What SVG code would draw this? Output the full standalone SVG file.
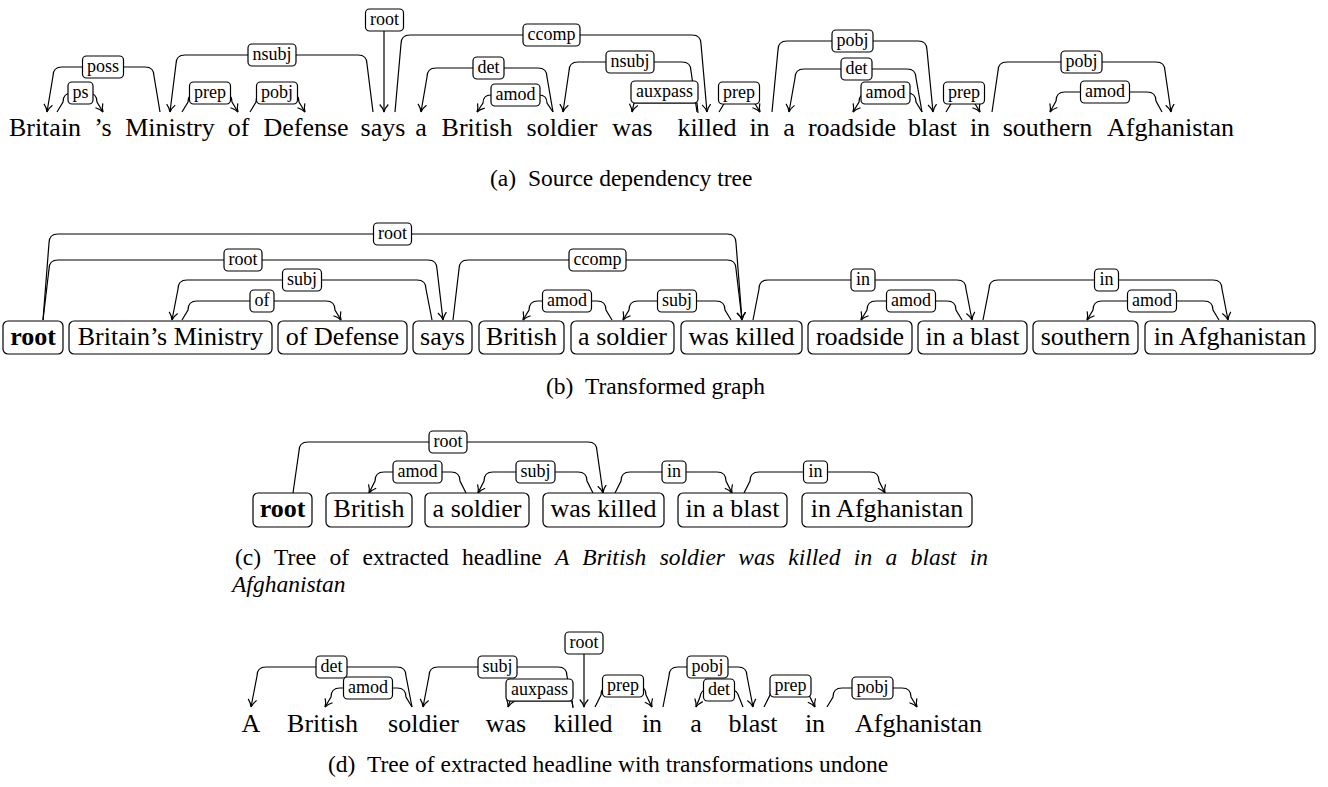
<svg xmlns="http://www.w3.org/2000/svg" width="1328" height="787" viewBox="0 0 1328 787">
<style>
text{font-family:"Liberation Serif","Times New Roman",serif;fill:#000}
.w{font-size:26px;text-anchor:middle}
.wb{font-size:26px;text-anchor:middle;font-weight:bold}
.lb{font-size:18px;text-anchor:middle}
.cap{font-size:23.5px}
.it{font-style:italic}
.nb{fill:#fff;stroke:#000;stroke-width:1.2}
.lr{fill:#fff;stroke:#000;stroke-width:1.2}
.e{fill:none;stroke:#000;stroke-width:1.2;marker-end:url(#ah)}
</style>
<defs>
<marker id="ah" viewBox="-8 -5 10 10" markerWidth="10" markerHeight="10" refX="0" refY="0" orient="auto" markerUnits="userSpaceOnUse">
<path d="M -7.5,-4.3 C -4.5,-1.5 -2,-0.5 0,0 C -2,0.5 -4.5,1.5 -7.5,4.3" fill="none" stroke="#000" stroke-width="1.2"/>
</marker>
</defs>

<!-- ===== (a) Source dependency tree ===== -->
<g id="a-words">
<g id="a-Britain"><text class="w" x="45" y="136">Britain</text></g>
<g id="a-s"><text class="w" x="103" y="136">’s</text></g>
<g id="a-Ministry"><text class="w" x="170" y="136">Ministry</text></g>
<g id="a-of"><text class="w" x="238.5" y="136">of</text></g>
<g id="a-Defense"><text class="w" x="306" y="136">Defense</text></g>
<g id="a-says"><text class="w" x="383" y="136">says</text></g>
<g id="a-a1"><text class="w" x="421" y="136">a</text></g>
<g id="a-British"><text class="w" x="477" y="136">British</text></g>
<g id="a-soldier"><text class="w" x="562" y="136">soldier</text></g>
<g id="a-was"><text class="w" x="632.5" y="136">was</text></g>
<g id="a-killed"><text class="w" x="707" y="136">killed</text></g>
<g id="a-in1"><text class="w" x="759.5" y="136">in</text></g>
<g id="a-a2"><text class="w" x="789" y="136">a</text></g>
<g id="a-roadside"><text class="w" x="852" y="136">roadside</text></g>
<g id="a-blast"><text class="w" x="932.5" y="136">blast</text></g>
<g id="a-in2"><text class="w" x="980" y="136">in</text></g>
<g id="a-southern"><text class="w" x="1047.5" y="136">southern</text></g>
<g id="a-Afghanistan"><text class="w" x="1170.5" y="136">Afghanistan</text></g>
</g>
<g id="a-connectors">
<g><path class="e" d="M 57,112 L 63,102 Q 63,93 72,93 L 88,93 Q 97,93 97,102 L 103,112"/><rect class="lr" x="68" y="82" width="25" height="22" rx="4"/><text class="lb" x="80.5" y="98">ps</text></g>
<g><path class="e" d="M 160,112 L 154,76 Q 154,67 145,67 L 62,67 Q 53,67 53,76 L 47,112"/><rect class="lr" x="82.5" y="56" width="41" height="22" rx="4"/><text class="lb" x="103" y="72">poss</text></g>
<g><path class="e" d="M 182,112 L 188,102 Q 188,93 197,93 L 223,93 Q 232,93 232,102 L 238,112"/><rect class="lr" x="189.5" y="82" width="41" height="22" rx="4"/><text class="lb" x="210" y="98">prep</text></g>
<g><path class="e" d="M 250,112 L 256,102 Q 256,93 265,93 L 290,93 Q 299,93 299,102 L 305,112"/><rect class="lr" x="256.5" y="82" width="41" height="22" rx="4"/><text class="lb" x="277" y="98">pobj</text></g>
<g><path class="e" d="M 373,112 L 367,64 Q 367,55 358,55 L 185,55 Q 176,55 176,64 L 170,112"/><rect class="lr" x="248" y="44" width="48" height="22" rx="4"/><text class="lb" x="272" y="60">nsubj</text></g>
<g><path class="e" d="M 384,31 L 384,112"/><rect class="lr" x="365.5" y="9" width="38" height="22" rx="4"/><text class="lb" x="384.5" y="25">root</text></g>
<g><path class="e" d="M 395,112 L 401,44 Q 401,35 410,35 L 692,35 Q 701,35 701,44 L 707,112"/><rect class="lr" x="523" y="24" width="57" height="22" rx="4"/><text class="lb" x="551.5" y="40">ccomp</text></g>
<g><path class="e" d="M 553,112 L 547,77 Q 547,68 538,68 L 436,68 Q 427,68 427,77 L 421,112"/><rect class="lr" x="473" y="57" width="31" height="22" rx="4"/><text class="lb" x="488.5" y="73">det</text></g>
<g><path class="e" d="M 553,112 L 547,103 Q 547,95 539,95 L 491,95 Q 483,95 483,103 L 477,112"/><rect class="lr" x="491" y="84" width="49" height="22" rx="4"/><text class="lb" x="515.5" y="100">amod</text></g>
<g><path class="e" d="M 697,112 L 691,71 Q 691,62 682,62 L 578,62 Q 569,62 569,71 L 563,112"/><rect class="lr" x="606" y="51" width="48" height="22" rx="4"/><text class="lb" x="630" y="67">nsubj</text></g>
<g><path class="e" d="M 698,113 L 697,103 L 634,103 L 632,112"/><rect class="lr" x="631" y="81" width="67" height="22" rx="4"/><text class="lb" x="664.5" y="97">auxpass</text></g>
<g><path class="e" d="M 719,112 L 725,102 Q 725,93 734,93 L 745,93 Q 754,93 754,102 L 760,112"/><rect class="lr" x="718.5" y="82" width="41" height="22" rx="4"/><text class="lb" x="739" y="98">prep</text></g>
<g><path class="e" d="M 772,112 L 778,50 Q 778,41 787,41 L 918,41 Q 927,41 927,50 L 933,112"/><rect class="lr" x="832" y="30" width="41" height="22" rx="4"/><text class="lb" x="852.5" y="46">pobj</text></g>
<g><path class="e" d="M 922,112 L 916,78 Q 916,69 907,69 L 804,69 Q 795,69 795,78 L 789,112"/><rect class="lr" x="841" y="58" width="31" height="22" rx="4"/><text class="lb" x="856.5" y="74">det</text></g>
<g><path class="e" d="M 922,112 L 916,102 Q 916,93 907,93 L 868,93 Q 859,93 859,102 L 853,112"/><rect class="lr" x="861" y="82" width="49" height="22" rx="4"/><text class="lb" x="885.5" y="98">amod</text></g>
<g><path class="e" d="M 946,112 L 952,102 Q 952,93 961,93 L 965,93 Q 974,93 974,102 L 980,112"/><rect class="lr" x="943.5" y="82" width="41" height="22" rx="4"/><text class="lb" x="964" y="98">prep</text></g>
<g><path class="e" d="M 992,112 L 998,71 Q 998,62 1007,62 L 1156,62 Q 1165,62 1165,71 L 1171,112"/><rect class="lr" x="1061" y="51" width="41" height="22" rx="4"/><text class="lb" x="1081.5" y="67">pobj</text></g>
<g><path class="e" d="M 1162,112 L 1156,101 Q 1156,92 1147,92 L 1065,92 Q 1056,92 1056,101 L 1050,112"/><rect class="lr" x="1080.5" y="81" width="49" height="22" rx="4"/><text class="lb" x="1105" y="97">amod</text></g>
</g>
<g id="cap-a"><text class="cap" x="490" y="186">(a)</text><text class="cap" x="528" y="186">Source dependency tree</text></g>

<!-- ===== (b) Transformed graph ===== -->
<g id="b-connectors">
<g><path class="e" d="M 43,320 L 49,243 Q 49,234 58,234 L 727,234 Q 736,234 736,243 L 742,320"/><rect class="lr" x="373.5" y="223" width="38" height="22" rx="4"/><text class="lb" x="392.5" y="239">root</text></g>
<g><path class="e" d="M 43,320 L 49,269 Q 49,260 58,260 L 428,260 Q 437,260 437,269 L 443,320"/><rect class="lr" x="224" y="249" width="38" height="22" rx="4"/><text class="lb" x="243" y="265">root</text></g>
<g><path class="e" d="M 432,320 L 426,289 Q 426,280 417,280 L 187,280 Q 178,280 178,289 L 172,320"/><rect class="lr" x="282.5" y="269" width="39" height="22" rx="4"/><text class="lb" x="302" y="285">subj</text></g>
<g><path class="e" d="M 182,320 L 188,310 Q 188,301 197,301 L 326,301 Q 335,301 335,310 L 341,320"/><rect class="lr" x="250" y="290" width="24" height="22" rx="4"/><text class="lb" x="262" y="306">of</text></g>
<g><path class="e" d="M 453,320 L 459,269 Q 459,260 468,260 L 727,260 Q 736,260 736,269 L 742,320"/><rect class="lr" x="569" y="249" width="57" height="22" rx="4"/><text class="lb" x="597.5" y="265">ccomp</text></g>
<g><path class="e" d="M 612,320 L 606,310 Q 606,301 597,301 L 538,301 Q 529,301 529,310 L 523,320"/><rect class="lr" x="542.5" y="290" width="49" height="22" rx="4"/><text class="lb" x="567" y="306">amod</text></g>
<g><path class="e" d="M 731,320 L 725,310 Q 725,301 716,301 L 638,301 Q 629,301 629,310 L 623,320"/><rect class="lr" x="657.5" y="290" width="39" height="22" rx="4"/><text class="lb" x="677" y="306">subj</text></g>
<g><path class="e" d="M 753,320 L 759,289 Q 759,280 768,280 L 957,280 Q 966,280 966,289 L 972,320"/><rect class="lr" x="851" y="269" width="24" height="22" rx="4"/><text class="lb" x="863" y="285">in</text></g>
<g><path class="e" d="M 962,320 L 956,310 Q 956,301 947,301 L 876,301 Q 867,301 867,310 L 861,320"/><rect class="lr" x="886.5" y="290" width="49" height="22" rx="4"/><text class="lb" x="911" y="306">amod</text></g>
<g><path class="e" d="M 983,320 L 989,289 Q 989,280 998,280 L 1213,280 Q 1222,280 1222,289 L 1228,320"/><rect class="lr" x="1094.5" y="269" width="24" height="22" rx="4"/><text class="lb" x="1106.5" y="285">in</text></g>
<g><path class="e" d="M 1219,320 L 1213,310 Q 1213,301 1204,301 L 1102,301 Q 1093,301 1093,310 L 1087,320"/><rect class="lr" x="1127.5" y="290" width="49" height="22" rx="4"/><text class="lb" x="1152" y="306">amod</text></g>
</g>
<g id="b-nodes">
<g id="b-root"><rect class="nb" x="3" y="321" width="60" height="33" rx="5"/><text class="wb" x="33" y="345">root</text></g>
<g id="b-BritainsMinistry"><rect class="nb" x="69" y="321" width="203" height="33" rx="5"/><text class="w" x="170.5" y="345">Britain’s Ministry</text></g>
<g id="b-ofDefense"><rect class="nb" x="278" y="321" width="129" height="33" rx="5"/><text class="w" x="342.5" y="345">of Defense</text></g>
<g id="b-says"><rect class="nb" x="413" y="321" width="59" height="33" rx="5"/><text class="w" x="442.5" y="345">says</text></g>
<g id="b-British"><rect class="nb" x="479" y="321" width="85" height="33" rx="5"/><text class="w" x="521.5" y="345">British</text></g>
<g id="b-asoldier"><rect class="nb" x="571" y="321" width="103" height="33" rx="5"/><text class="w" x="622.5" y="345">a soldier</text></g>
<g id="b-waskilled"><rect class="nb" x="681" y="321" width="121" height="33" rx="5"/><text class="w" x="741.5" y="345">was killed</text></g>
<g id="b-roadside"><rect class="nb" x="808" y="321" width="104" height="33" rx="5"/><text class="w" x="860" y="345">roadside</text></g>
<g id="b-inablast"><rect class="nb" x="918" y="321" width="109" height="33" rx="5"/><text class="w" x="972.5" y="345">in a blast</text></g>
<g id="b-southern"><rect class="nb" x="1033" y="321" width="105" height="33" rx="5"/><text class="w" x="1085.5" y="345">southern</text></g>
<g id="b-inAfghanistan"><rect class="nb" x="1145" y="321" width="170" height="33" rx="5"/><text class="w" x="1230" y="345">in Afghanistan</text></g>
</g>
<g id="cap-b"><text class="cap" x="546" y="394">(b)</text><text class="cap" x="585" y="394">Transformed graph</text></g>

<!-- ===== (c) Extracted headline tree ===== -->
<g id="c-connectors">
<g><path class="e" d="M 293,493 L 299,451 Q 299,442 308,442 L 588,442 Q 597,442 597,451 L 603,493"/><rect class="lr" x="429" y="431" width="38" height="22" rx="4"/><text class="lb" x="448" y="447">root</text></g>
<g><path class="e" d="M 466,493 L 460,481 Q 460,472 451,472 L 384,472 Q 375,472 375,481 L 369,493"/><rect class="lr" x="393" y="461" width="49" height="22" rx="4"/><text class="lb" x="417.5" y="477">amod</text></g>
<g><path class="e" d="M 593,493 L 587,481 Q 587,472 578,472 L 493,472 Q 484,472 484,481 L 478,493"/><rect class="lr" x="516" y="461" width="39" height="22" rx="4"/><text class="lb" x="535.5" y="477">subj</text></g>
<g><path class="e" d="M 615,493 L 621,481 Q 621,472 630,472 L 717,472 Q 726,472 726,481 L 732,493"/><rect class="lr" x="662" y="461" width="24" height="22" rx="4"/><text class="lb" x="674" y="477">in</text></g>
<g><path class="e" d="M 744,493 L 750,481 Q 750,472 759,472 L 870,472 Q 879,472 879,481 L 885,493"/><rect class="lr" x="803.5" y="461" width="24" height="22" rx="4"/><text class="lb" x="815.5" y="477">in</text></g>
</g>
<g id="c-nodes">
<g id="c-root"><rect class="nb" x="253" y="493" width="59" height="34" rx="5"/><text class="wb" x="282.5" y="517">root</text></g>
<g id="c-British"><rect class="nb" x="326" y="493" width="86" height="34" rx="5"/><text class="w" x="369" y="517">British</text></g>
<g id="c-asoldier"><rect class="nb" x="425" y="493" width="104" height="34" rx="5"/><text class="w" x="477" y="517">a soldier</text></g>
<g id="c-waskilled"><rect class="nb" x="543" y="493" width="121" height="34" rx="5"/><text class="w" x="603.5" y="517">was killed</text></g>
<g id="c-inablast"><rect class="nb" x="678" y="493" width="109" height="34" rx="5"/><text class="w" x="732.5" y="517">in a blast</text></g>
<g id="c-inAfghanistan"><rect class="nb" x="802" y="493" width="170" height="34" rx="5"/><text class="w" x="887" y="517">in Afghanistan</text></g>
</g>
<g id="cap-c">
<text class="cap" x="235" y="565" word-spacing="7.5">(c) Tree of extracted headline <tspan class="it">A British soldier was killed in a blast in</tspan></text>
<text class="cap it" x="232" y="592">Afghanistan</text>
</g>

<!-- ===== (d) Headline with transformations undone ===== -->
<g id="d-words">
<g id="d-A"><text class="w" x="251" y="732">A</text></g>
<g id="d-British"><text class="w" x="322.5" y="732">British</text></g>
<g id="d-soldier"><text class="w" x="423.5" y="732">soldier</text></g>
<g id="d-was"><text class="w" x="506" y="732">was</text></g>
<g id="d-killed"><text class="w" x="583" y="732">killed</text></g>
<g id="d-in1"><text class="w" x="652" y="732">in</text></g>
<g id="d-a"><text class="w" x="696" y="732">a</text></g>
<g id="d-blast"><text class="w" x="753" y="732">blast</text></g>
<g id="d-in2"><text class="w" x="815" y="732">in</text></g>
<g id="d-Afghanistan"><text class="w" x="918.5" y="732">Afghanistan</text></g>
</g>
<g id="d-connectors">
<g><path class="e" d="M 412,707 L 406,676 Q 406,667 397,667 L 266,667 Q 257,667 257,676 L 251,707"/><rect class="lr" x="316" y="656" width="31" height="22" rx="4"/><text class="lb" x="331.5" y="672">det</text></g>
<g><path class="e" d="M 412,707 L 406,697 Q 406,688 397,688 L 340,688 Q 331,688 331,697 L 325,707"/><rect class="lr" x="343.5" y="677" width="49" height="22" rx="4"/><text class="lb" x="368" y="693">amod</text></g>
<g><path class="e" d="M 573,707 L 567,676 Q 567,667 558,667 L 438,667 Q 429,667 429,676 L 423,707"/><rect class="lr" x="478" y="656" width="39" height="22" rx="4"/><text class="lb" x="497.5" y="672">subj</text></g>
<g><path class="e" d="M 573,708 L 572,701 L 510,701 L 508,707"/><rect class="lr" x="506" y="679" width="67" height="22" rx="4"/><text class="lb" x="539.5" y="695">auxpass</text></g>
<g><path class="e" d="M 584,654 L 584,707"/><rect class="lr" x="565" y="632" width="38" height="22" rx="4"/><text class="lb" x="584" y="648">root</text></g>
<g><path class="e" d="M 595,707 L 601,695 Q 601,686 610,686 L 637,686 Q 646,686 646,695 L 652,707"/><rect class="lr" x="602.5" y="675" width="41" height="22" rx="4"/><text class="lb" x="623" y="691">prep</text></g>
<g><path class="e" d="M 663,707 L 669,676 Q 669,667 678,667 L 738,667 Q 747,667 747,676 L 753,707"/><rect class="lr" x="687" y="656" width="41" height="22" rx="4"/><text class="lb" x="707.5" y="672">pobj</text></g>
<g><path class="e" d="M 743,707 L 739,697 Q 737,690 732,690 L 706,690 Q 701,690 700,697 L 696,707"/><rect class="lr" x="703.5" y="679" width="31" height="22" rx="4"/><text class="lb" x="719" y="695">det</text></g>
<g><path class="e" d="M 764,707 L 770,695 Q 770,686 779,686 L 800,686 Q 809,686 809,695 L 815,707"/><rect class="lr" x="770" y="675" width="41" height="22" rx="4"/><text class="lb" x="790.5" y="691">prep</text></g>
<g><path class="e" d="M 827,707 L 833,697 Q 833,688 842,688 L 902,688 Q 911,688 911,697 L 917,707"/><rect class="lr" x="852" y="677" width="41" height="22" rx="4"/><text class="lb" x="872.5" y="693">pobj</text></g>
</g>
<g id="cap-d"><text class="cap" x="328" y="772">(d)</text><text class="cap" x="367" y="772">Tree of extracted headline with transformations undone</text></g>
</svg>
